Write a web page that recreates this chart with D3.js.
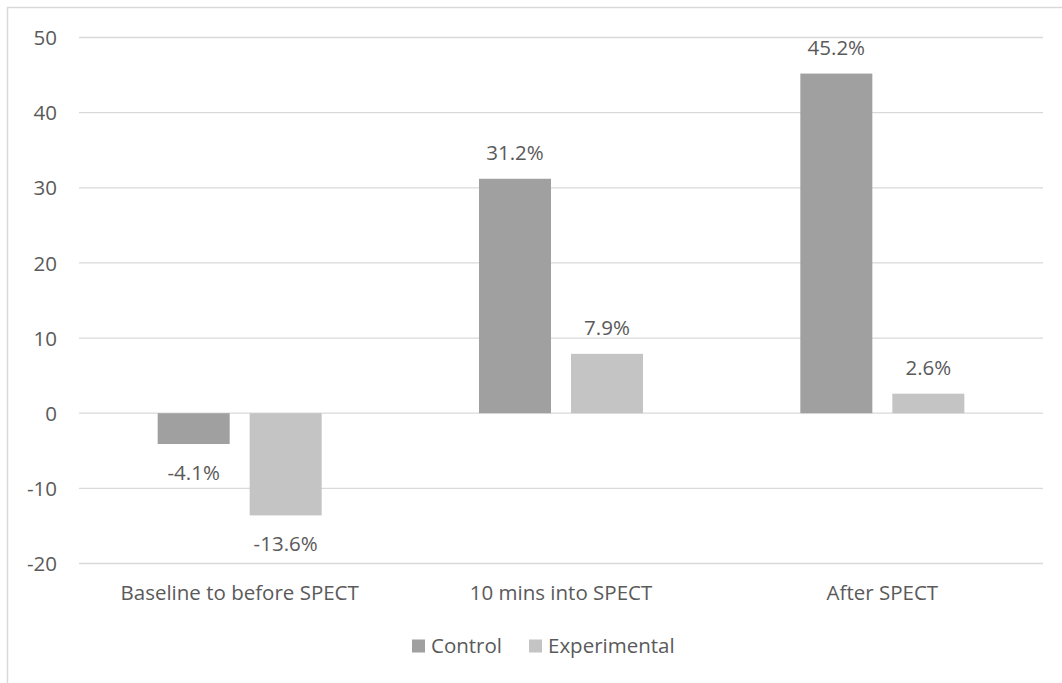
<!DOCTYPE html>
<html>
<head>
<meta charset="utf-8">
<script src="https://cdn.jsdelivr.net/npm/d3@7"></script>
<style>
  body { margin: 0; background: #fff; }
  text { font-family: "Open Sans", sans-serif; fill: #5a5a5a; }
</style>
</head>
<body>
<div id="chart"></div>
<script>
// chart data
const categories = ["Baseline to before SPECT", "10 mins into SPECT", "After SPECT"];
const seriesNames = ["Control", "Experimental"];
const controlValues = [-4.1, 31.2, 45.2];
const experimentalValues = [-13.6, 7.9, 2.6];
const yTicks = [-20, -10, 0, 10, 20, 30, 40, 50];
const colors = ["#a0a0a0", "#c4c4c4"];

const W = 1062, H = 683;
const margin = { top: 37.5, right: 19, bottom: 119.5, left: 79 };
const fontSize = 20.5;

const svg = d3.select("#chart").append("svg")
    .attr("width", W)
    .attr("height", H);

// outer chart border (right/bottom run off the picture)
svg.append("rect")
    .attr("x", 7.5).attr("y", 7.5)
    .attr("width", W + 20).attr("height", H + 20)
    .attr("fill", "none")
    .attr("stroke", "#d9d9d9")
    .attr("stroke-width", 1.5);

const x0 = d3.scaleBand()
    .domain(categories)
    .range([margin.left, W - margin.right]);

const x1 = d3.scaleBand()
    .domain(seriesNames)
    .range([0, x0.bandwidth()])
    .paddingInner(20 / 92)
    .paddingOuter(0.855);

const y = d3.scaleLinear()
    .domain([-20, 50])
    .range([H - margin.bottom, margin.top]);

// gridlines
svg.append("g")
    .selectAll("line")
    .data(yTicks)
    .join("line")
    .attr("x1", margin.left)
    .attr("x2", W - margin.right)
    .attr("y1", d => y(d))
    .attr("y2", d => y(d))
    .attr("stroke", "#d9d9d9")
    .attr("stroke-width", 1.3);

// y tick labels (plain hyphen for negatives, like the original)
const yAxis = d3.axisLeft(y)
    .tickValues(yTicks)
    .tickSize(0)
    .tickPadding(0)
    .tickFormat(d => String(d));
svg.append("g")
    .attr("transform", `translate(57,0)`)
    .call(yAxis)
    .call(g => g.select(".domain").remove())
    .call(g => g.selectAll("text")
        .attr("font-family", "Open Sans, sans-serif")
        .attr("font-size", fontSize)
        .attr("dy", "0.35em")
        .style("fill", "#5a5a5a"));

// bars
const rows = categories.map((c, i) => ({
    cat: c,
    vals: [controlValues[i], experimentalValues[i]]
}));

const groups = svg.append("g")
    .selectAll("g")
    .data(rows)
    .join("g")
    .attr("transform", d => `translate(${x0(d.cat)},0)`);

const cells = groups.selectAll("g")
    .data(d => d.vals.map((v, j) => ({ name: seriesNames[j], v, j })))
    .join("g");

cells.append("rect")
    .attr("x", d => x1(d.name))
    .attr("width", x1.bandwidth())
    .attr("y", d => y(Math.max(0, d.v)))
    .attr("height", d => Math.abs(y(d.v) - y(0)))
    .attr("fill", d => colors[d.j]);

cells.append("text")
    .attr("x", d => x1(d.name) + x1.bandwidth() / 2)
    .attr("y", d => d.v >= 0 ? y(d.v) - 19 : y(d.v) + 36)
    .attr("text-anchor", "middle")
    .attr("font-size", fontSize)
    .text(d => d.v.toFixed(1) + "%");

// category labels
svg.append("g")
    .selectAll("text")
    .data(categories)
    .join("text")
    .attr("x", d => x0(d) + x0.bandwidth() / 2)
    .attr("y", 600)
    .attr("text-anchor", "middle")
    .attr("font-size", fontSize)
    .text(d => d);

// legend
const legendX = [412, 529];
const legend = svg.append("g")
    .selectAll("g")
    .data(seriesNames)
    .join("g")
    .attr("transform", (d, i) => `translate(${legendX[i]},639.5)`);

legend.append("rect")
    .attr("width", 13).attr("height", 13)
    .attr("fill", (d, i) => colors[i]);

legend.append("text")
    .attr("x", 19)
    .attr("y", 13)
    .attr("font-size", fontSize)
    .text(d => d);
</script>
</body>
</html>
